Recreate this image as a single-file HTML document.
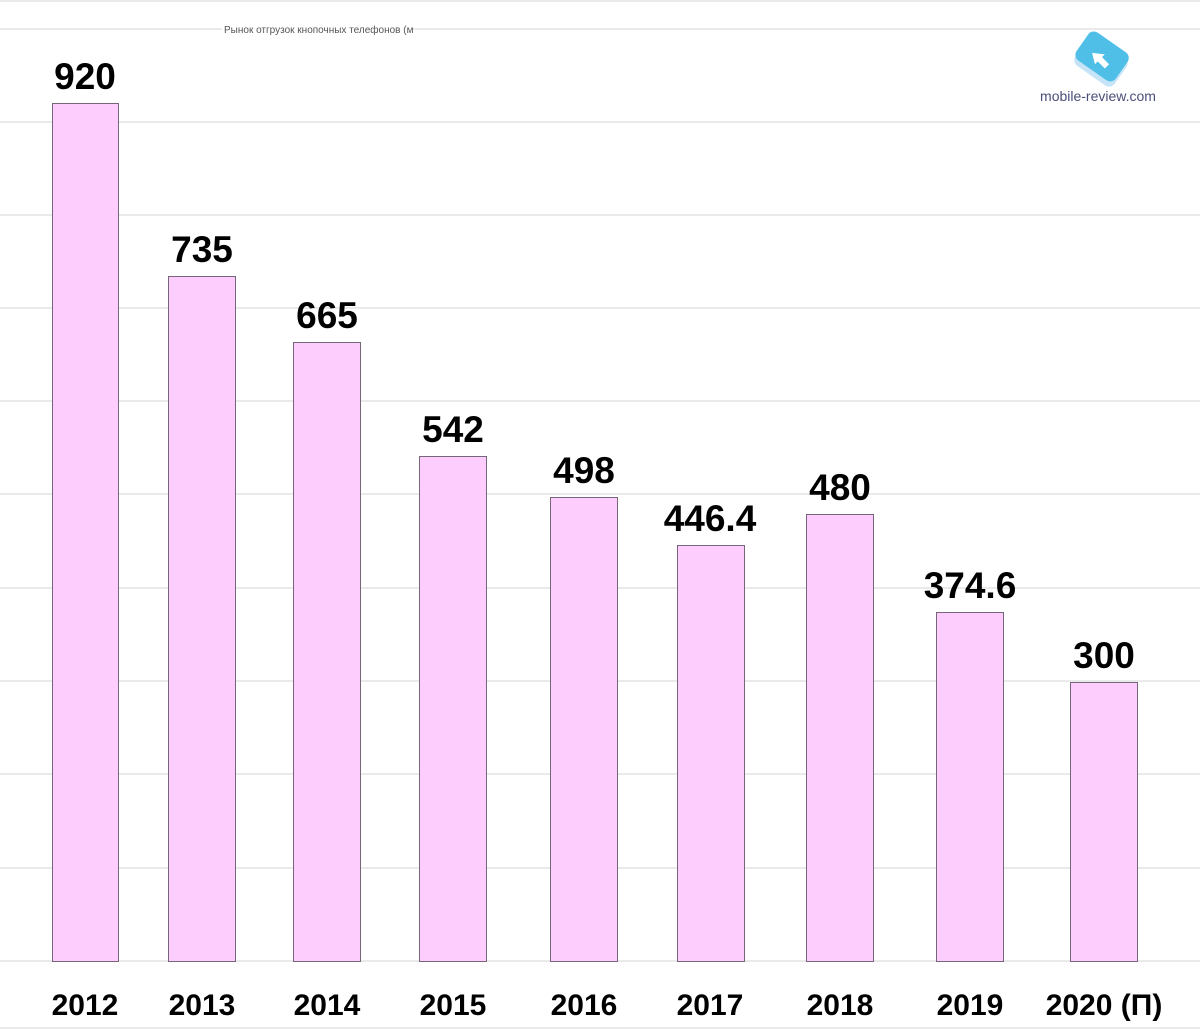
<!DOCTYPE html>
<html><head><meta charset="utf-8"><style>
html,body{margin:0;padding:0;background:#fff;width:1200px;height:1029px;overflow:hidden}
svg{display:block}
.v{font-family:"Liberation Sans","DejaVu Sans",sans-serif;font-weight:bold;font-size:37px;fill:#000;text-anchor:middle}
.y{font-family:"Liberation Sans","DejaVu Sans",sans-serif;font-weight:bold;font-size:30px;fill:#000;text-anchor:middle}
</style></head><body>
<svg width="1200" height="1029" viewBox="0 0 1200 1029">
<g stroke="#e4e4e4" stroke-width="1.5">
<line x1="0" y1="1" x2="1200" y2="1"/>
<line x1="0" y1="29" x2="1200" y2="29"/>
<line x1="0" y1="122" x2="1200" y2="122"/>
<line x1="0" y1="215" x2="1200" y2="215"/>
<line x1="0" y1="308" x2="1200" y2="308"/>
<line x1="0" y1="401" x2="1200" y2="401"/>
<line x1="0" y1="494" x2="1200" y2="494"/>
<line x1="0" y1="588" x2="1200" y2="588"/>
<line x1="0" y1="681" x2="1200" y2="681"/>
<line x1="0" y1="774" x2="1200" y2="774"/>
<line x1="0" y1="868" x2="1200" y2="868"/>
<line x1="0" y1="961" x2="1200" y2="961"/>
<line x1="0" y1="1028" x2="1200" y2="1028"/>
</g>
<rect x="222" y="22" width="190" height="14" fill="#fff"/>
<text x="224" y="33" font-family="Liberation Sans,sans-serif" font-size="10" fill="#555">Рынок отгрузок кнопочных телефонов (м</text>
<g fill="#fdcdfd" stroke="#75667a" stroke-width="1">
<rect x="52.5" y="103.5" width="66" height="858"/>
<rect x="168.5" y="276.5" width="67" height="685"/>
<rect x="293.5" y="342.5" width="67" height="619"/>
<rect x="419.5" y="456.5" width="67" height="505"/>
<rect x="550.5" y="497.5" width="67" height="464"/>
<rect x="677.5" y="545.5" width="67" height="416"/>
<rect x="806.5" y="514.5" width="67" height="447"/>
<rect x="936.5" y="612.5" width="67" height="349"/>
<rect x="1070.5" y="682.5" width="67" height="279"/>
</g>
<text class="v" x="85" y="89">920</text>
<text class="v" x="202" y="262">735</text>
<text class="v" x="327" y="328">665</text>
<text class="v" x="453" y="442">542</text>
<text class="v" x="584" y="483">498</text>
<text class="v" x="710" y="531">446.4</text>
<text class="v" x="840" y="500">480</text>
<text class="v" x="970" y="598">374.6</text>
<text class="v" x="1104" y="668">300</text>
<text class="y" x="85" y="1015">2012</text>
<text class="y" x="202" y="1015">2013</text>
<text class="y" x="327" y="1015">2014</text>
<text class="y" x="453" y="1015">2015</text>
<text class="y" x="584" y="1015">2016</text>
<text class="y" x="710" y="1015">2017</text>
<text class="y" x="840" y="1015">2018</text>
<text class="y" x="970" y="1015">2019</text>
<text class="y" x="1104" y="1015">2020 (П)</text>
<g transform="translate(1102,60) rotate(35)">
<rect x="-24" y="-15" width="48" height="34" rx="7" fill="#c6e4f8"/>
<rect x="-26" y="-20" width="48" height="34" rx="7" fill="#4fbfe8"/>
<path d="M-8,-2 L-2,-12 L6,-2 L2,-2 L2,8 L-4,8 L-4,-2 Z" fill="#fff" transform="rotate(-80)"/>
</g>
<text x="1098" y="101" font-family="Liberation Sans Narrow,Liberation Sans,sans-serif" font-size="14" fill="#4a4f7a" text-anchor="middle">mobile-review.com</text>
</svg>
</body></html>
